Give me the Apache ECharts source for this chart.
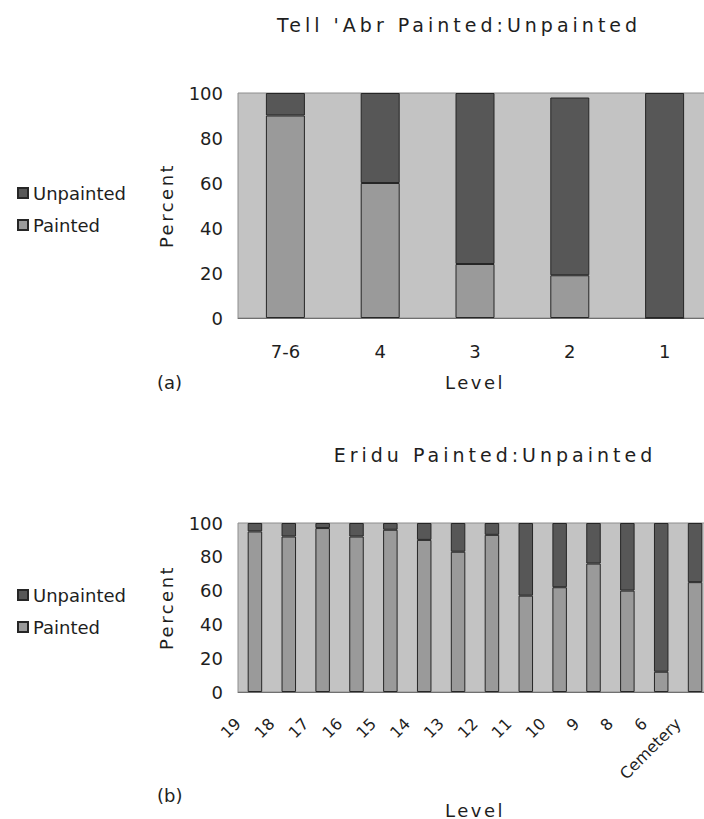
<!DOCTYPE html>
<html>
<head>
<meta charset="utf-8">
<script src="https://cdn.jsdelivr.net/npm/echarts@6/dist/echarts.min.js"></script>
<style>
  html, body { margin: 0; padding: 0; background: #ffffff; }
  #chart { width: 704px; height: 819px; }
  /* spaced lettering for the chart titles and the axis names */
  #chart text[style*="Lato"] { letter-spacing: 4px; }
  #chart text[style*="Inter"] { letter-spacing: 2.5px; }
</style>
</head>
<body>
<div id="chart"></div>
<script>
// Tell 'Abr: share of painted vs unpainted sherds per level (percent)
const tellLevels = ['7-6', '4', '3', '2', '1'];
const tellPainted = [90, 60, 24, 19, 0];
const tellUnpainted = [10, 40, 76, 79, 100];

// Eridu: share of painted vs unpainted sherds per level (percent)
const eriduLevels = ['19', '18', '17', '16', '15', '14', '13', '12', '11', '10', '9', '8', '6', 'Cemetery'];
const eriduPainted = [95, 92, 97, 92, 96, 90, 83, 93, 57, 62, 76, 60, 12, 65];
const eriduUnpainted = [5, 8, 3, 8, 4, 10, 17, 7, 43, 38, 24, 40, 88, 35];

const percentTicks = { min: 0, max: 100, interval: 20 };

const FONT = 'DejaVu Sans';
const TITLE_FONT = 'DejaVu Sans, Lato';
const NAME_FONT = 'DejaVu Sans, Inter';
const INK = '#1e1e1e';
const PAINTED = '#9a9a9a';
const UNPAINTED = '#575757';
const EDGE = '#262626';

function gridStyle(top, height) {
  return {
    left: 238, top: top, width: 474, height: height,
    show: true, backgroundColor: '#c3c3c3', borderColor: '#8e8e8e', borderWidth: 1,
    containLabel: false, outerBoundsMode: 'none'
  };
}

function yAxisFor(gridIndex) {
  return {
    type: 'value', gridIndex: gridIndex,
    min: percentTicks.min, max: percentTicks.max, interval: percentTicks.interval,
    splitLine: { show: false }, axisLine: { show: false }, axisTick: { show: false },
    axisLabel: { fontFamily: FONT, fontSize: 18, color: INK, margin: 15 },
    name: 'Percent', nameLocation: 'middle', nameGap: 63,
    nameTextStyle: { fontFamily: NAME_FONT, fontSize: 18, color: INK }
  };
}

function legendFor(top) {
  return {
    left: 17, top: top, orient: 'vertical', padding: 0,
    itemWidth: 10, itemHeight: 10, itemGap: 14, icon: 'rect',
    selectedMode: false,
    data: ['Unpainted', 'Painted'],
    textStyle: { fontFamily: FONT, fontSize: 18, color: INK }
  };
}

function barSeries(name, data, axisIndex, stack, color, width) {
  return {
    name: name, type: 'bar', stack: stack,
    xAxisIndex: axisIndex, yAxisIndex: axisIndex,
    data: data, barWidth: width,
    itemStyle: { color: color, borderColor: EDGE, borderWidth: 1 },
    emphasis: { disabled: true }
  };
}

const chart = echarts.init(document.getElementById('chart'), null, { renderer: 'svg' });

chart.setOption({
  animation: false,
  backgroundColor: '#ffffff',
  textStyle: { fontFamily: FONT },
  grid: [gridStyle(93, 225), gridStyle(523, 169)],
  xAxis: [
    {
      type: 'category', gridIndex: 0, data: tellLevels,
      axisTick: { show: false },
      axisLine: { lineStyle: { color: '#707070', width: 1 } },
      axisLabel: { fontFamily: FONT, fontSize: 18, color: INK, margin: 24 },
      name: 'Level', nameLocation: 'middle', nameGap: 55,
      nameTextStyle: { fontFamily: NAME_FONT, fontSize: 18, color: INK }
    },
    {
      type: 'category', gridIndex: 1, data: eriduLevels,
      axisTick: { show: false },
      axisLine: { lineStyle: { color: '#707070', width: 1 } },
      axisLabel: { fontFamily: FONT, fontSize: 16, color: INK, rotate: 45, interval: 0, margin: 12, padding: [0, 24, 0, 0] },
      name: 'Level', nameLocation: 'middle', nameGap: 109,
      nameTextStyle: { fontFamily: NAME_FONT, fontSize: 18, color: INK }
    }
  ],
  yAxis: [yAxisFor(0), yAxisFor(1)],
  legend: [legendFor(184), legendFor(586)],
  series: [
    barSeries('Painted', tellPainted, 0, 'tell', PAINTED, 39),
    barSeries('Unpainted', tellUnpainted, 0, 'tell', UNPAINTED, 39),
    barSeries('Painted', eriduPainted, 1, 'eridu', PAINTED, 14.5),
    barSeries('Unpainted', eriduUnpainted, 1, 'eridu', UNPAINTED, 14.5)
  ],
  graphic: [
    { type: 'text', x: 459, y: 25, style: { text: "Tell 'Abr Painted:Unpainted", fontFamily: TITLE_FONT, fontSize: 19, fill: INK, textAlign: 'center', textVerticalAlign: 'middle' } },
    { type: 'text', x: 495, y: 455, style: { text: 'Eridu Painted:Unpainted', fontFamily: TITLE_FONT, fontSize: 19, fill: INK, textAlign: 'center', textVerticalAlign: 'middle' } },
    { type: 'text', x: 157, y: 382, style: { text: '(a)', fontFamily: FONT, fontSize: 18, fill: INK, textVerticalAlign: 'middle' } },
    { type: 'text', x: 157, y: 795, style: { text: '(b)', fontFamily: FONT, fontSize: 18, fill: INK, textVerticalAlign: 'middle' } }
  ]
});
</script>
</body>
</html>
